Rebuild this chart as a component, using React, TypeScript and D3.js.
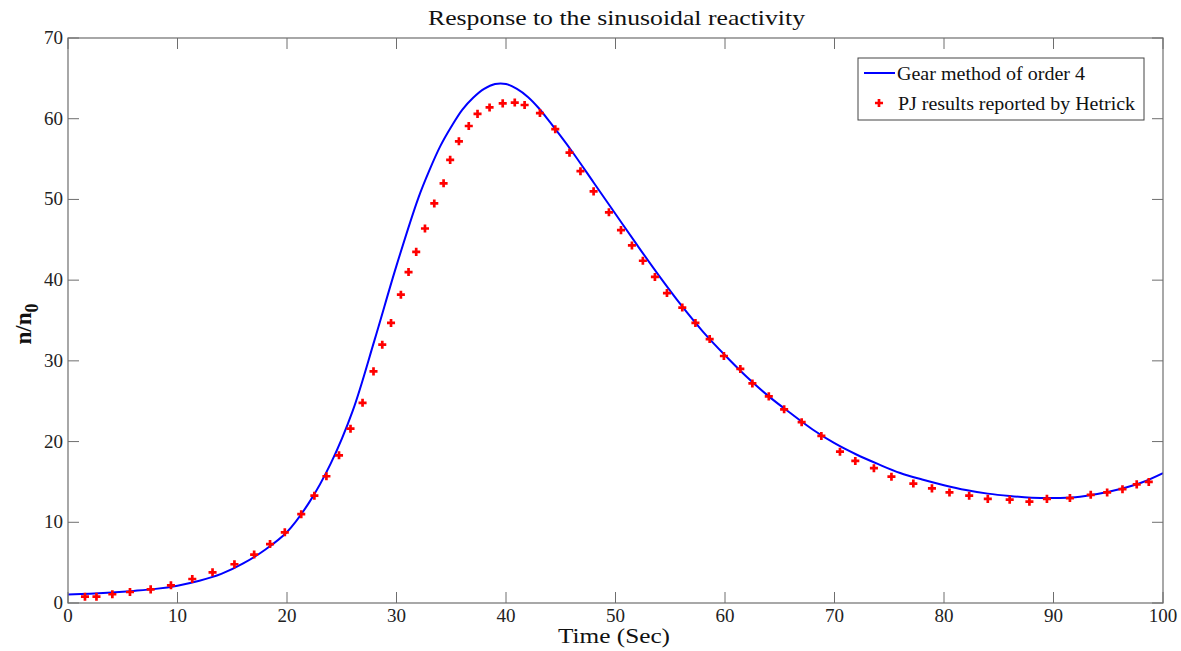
import React from "react";
import * as d3 from "d3";

const title = "Response to the sinusoidal reactivity";
const xLabel = "Time (Sec)";
const legendLabels = ["Gear method of order 4", "PJ results reported by Hetrick"];
const xTicks = [0, 10, 20, 30, 40, 50, 60, 70, 80, 90, 100];
const yTicks = [0, 10, 20, 30, 40, 50, 60, 70];

// Gear method curve
const gearT = [0, 2, 4, 6, 8, 10, 12, 14, 16, 18, 20, 22, 24, 26, 28, 30, 32, 33, 34, 35, 36, 37, 38, 39, 40, 41, 42, 43, 44, 46, 48, 50, 52, 54, 56, 58, 60, 62, 64, 66, 68, 70, 72, 74, 76, 78, 80, 82, 84, 86, 88, 90, 92, 94, 96, 98, 100];
const gearN = [1.05, 1.15, 1.3, 1.5, 1.75, 2.15, 2.75, 3.6, 4.9, 6.6, 8.8, 12.4, 17.3, 23.8, 32.6, 41.8, 50.2, 53.6, 56.6, 59.0, 61.1, 62.6, 63.7, 64.3, 64.3, 63.7, 62.7, 61.3, 59.6, 56.0, 52.1, 48.2, 44.3, 40.5, 36.9, 33.6, 30.7, 28.0, 25.6, 23.5, 21.5, 19.8, 18.4, 17.2, 16.1, 15.3, 14.6, 14.0, 13.55, 13.25, 13.05, 13.0, 13.1, 13.5, 14.1, 14.9, 16.1];

// PJ results (Hetrick)
const pjT = [1.55, 2.6, 4.05, 5.66, 7.55, 9.4, 11.35, 13.2, 15.2, 17.0, 18.45, 19.8, 21.3, 22.5, 23.6, 24.75, 25.8, 26.9, 27.9, 28.7, 29.5, 30.4, 31.1, 31.8, 32.6, 33.45, 34.3, 34.9, 35.7, 36.6, 37.4, 38.5, 39.7, 40.8, 41.7, 43.1, 44.5, 45.8, 46.8, 48.0, 49.4, 50.5, 51.5, 52.5, 53.6, 54.7, 56.1, 57.3, 58.6, 59.9, 61.4, 62.5, 64.0, 65.4, 67.0, 68.8, 70.5, 71.9, 73.6, 75.2, 77.2, 78.9, 80.5, 82.3, 84.0, 86.0, 87.8, 89.4, 91.5, 93.4, 94.9, 96.3, 97.6, 98.7];
const pjN = [0.78, 0.78, 1.08, 1.36, 1.69, 2.19, 2.97, 3.8, 4.8, 6.0, 7.3, 8.76, 11.0, 13.3, 15.7, 18.3, 21.6, 24.8, 28.7, 32.0, 34.7, 38.2, 41.0, 43.5, 46.4, 49.5, 52.0, 54.9, 57.2, 59.1, 60.6, 61.4, 61.9, 62.0, 61.7, 60.7, 58.7, 55.8, 53.5, 51.0, 48.4, 46.2, 44.3, 42.4, 40.4, 38.4, 36.6, 34.7, 32.7, 30.6, 29.0, 27.2, 25.6, 24.0, 22.4, 20.7, 18.75, 17.6, 16.7, 15.65, 14.8, 14.2, 13.7, 13.3, 12.9, 12.8, 12.55, 12.9, 13.0, 13.4, 13.7, 14.1, 14.7, 15.0];

const W = 1181, H = 651;
const left = 68, right = 1163, top = 38, bottom = 603;
const font = "'Liberation Serif', 'DejaVu Serif', serif";
const axisColor = "#6e6e6e";
const tickLen = 11;

export default function App() {
  const x = d3.scaleLinear().domain([0, 100]).range([left, right]);
  const y = d3.scaleLinear().domain([0, 70]).range([bottom, top]);
  const line = d3.line<number>().x((_, i) => x(gearT[i])).y((d) => y(d)).curve(d3.curveCatmullRom.alpha(0.5));
  const marker = d3.symbol().type(d3.symbolCross).size(36)();

  return (
    <svg width={W} height={H} style={{ position: "absolute", left: 0, top: 0, background: "#fff" }} fontFamily={font}>
      <rect x={0} y={0} width={W} height={H} fill="#fff" />
      <text x={(428 + 805) / 2} y={25} textAnchor="middle" fontSize={21} fill="#111" textLength={377} lengthAdjust="spacingAndGlyphs">{title}</text>
      <defs>
        <clipPath id="clip"><rect x={left} y={top} width={right - left} height={bottom - top} /></clipPath>
      </defs>
      <g clipPath="url(#clip)">
        <path d={line(gearN) || ""} fill="none" stroke="#0000ff" strokeWidth={2} />
        {pjT.map((t, i) => (
          <path key={i} d={marker || ""} transform={`translate(${x(t)},${y(pjN[i])})`} fill="#ff0000" />
        ))}
      </g>
      <rect x={left} y={top} width={right - left} height={bottom - top} fill="none" stroke={axisColor} strokeWidth={1.2} />
      {xTicks.map((t) => (
        <g key={"x" + t}>
          <line x1={x(t)} x2={x(t)} y1={bottom} y2={bottom - tickLen} stroke={axisColor} />
          <line x1={x(t)} x2={x(t)} y1={top} y2={top + tickLen} stroke={axisColor} />
          <text x={x(t)} y={622} textAnchor="middle" fontSize={19} fill="#222">{t}</text>
        </g>
      ))}
      {yTicks.map((t) => (
        <g key={"y" + t}>
          <line x1={left} x2={left + tickLen} y1={y(t)} y2={y(t)} stroke={axisColor} />
          <line x1={right} x2={right - tickLen} y1={y(t)} y2={y(t)} stroke={axisColor} />
          <text x={left - 5} y={y(t) + 6} textAnchor="end" fontSize={19} fill="#222">{t}</text>
        </g>
      ))}
      <text x={614} y={643} textAnchor="middle" fontSize={21} fill="#111" textLength={112} lengthAdjust="spacingAndGlyphs">{xLabel}</text>
      <text transform={`translate(31,${324}) rotate(-90)`} textAnchor="middle" fontSize={23} fontWeight="bold" fill="#111">
        n/n<tspan dy={7} fontSize={18}>0</tspan>
      </text>
      <g>
        <rect x={858} y={58} width={286} height={62} fill="#fff" stroke="#444" strokeWidth={1} />
        <line x1={864} x2={895} y1={73} y2={73} stroke="#0000ff" strokeWidth={2} />
        <text x={897} y={80} fontSize={18.5} fill="#111" textLength={188} lengthAdjust="spacingAndGlyphs">{legendLabels[0]}</text>
        <path d={marker || ""} transform="translate(879,103)" fill="#ff0000" />
        <text x={898} y={110} fontSize={18.5} fill="#111" textLength={237} lengthAdjust="spacingAndGlyphs">{legendLabels[1]}</text>
      </g>
    </svg>
  );
}
